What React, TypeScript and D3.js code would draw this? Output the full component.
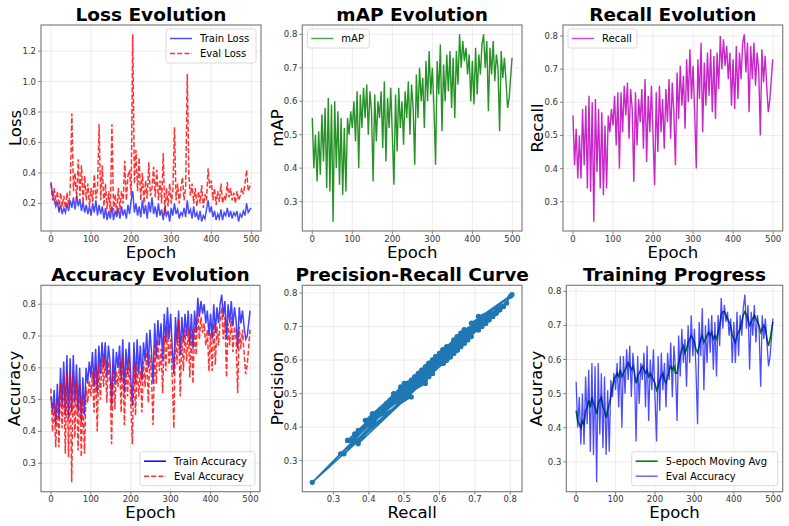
import * as d3 from "d3";

// epochs sampled every 4, last one is 499
const epochs = [...d3.range(0, 496, 4), 499];

const trainLoss = [
  0.34, 0.25, 0.22, 0.18, 0.21, 0.14, 0.19, 0.13, 0.17, 0.14,
  0.2, 0.15, 0.22, 0.17, 0.24, 0.16, 0.25, 0.18, 0.23, 0.15,
  0.21, 0.14, 0.19, 0.13, 0.18, 0.12, 0.2, 0.14, 0.22, 0.12,
  0.19, 0.13, 0.18, 0.1, 0.17, 0.09, 0.15, 0.1, 0.18, 0.09,
  0.15, 0.11, 0.17, 0.1, 0.18, 0.12, 0.16, 0.1, 0.19, 0.13,
  0.22, 0.28, 0.14, 0.2, 0.12, 0.18, 0.11, 0.22, 0.13, 0.19,
  0.1, 0.21, 0.14, 0.24, 0.13, 0.18, 0.11, 0.2, 0.12, 0.16,
  0.09, 0.18, 0.12, 0.15, 0.08, 0.17, 0.12, 0.2, 0.13, 0.16,
  0.1, 0.14, 0.12, 0.17, 0.11, 0.22, 0.13, 0.16, 0.1, 0.18,
  0.11, 0.14, 0.09, 0.15, 0.08, 0.12, 0.1, 0.16, 0.22, 0.14,
  0.18, 0.11, 0.15, 0.09, 0.13, 0.1, 0.16, 0.09, 0.14, 0.12,
  0.17, 0.11, 0.15, 0.1, 0.14, 0.12, 0.15, 0.08, 0.13, 0.11,
  0.15, 0.12, 0.2, 0.14, 0.17,
];

const evalLoss = [
  0.33, 0.22, 0.3, 0.2, 0.28, 0.16, 0.27, 0.18, 0.25, 0.17,
  0.27, 0.19, 0.3, 0.79, 0.28, 0.4, 0.22, 0.49, 0.25, 0.45,
  0.2, 0.38, 0.22, 0.33, 0.18, 0.3, 0.21, 0.39, 0.23, 0.3,
  0.72, 0.22, 0.45, 0.18, 0.33, 0.16, 0.28, 0.14, 0.72, 0.15,
  0.26, 0.13, 0.3, 0.16, 0.28, 0.2, 0.48, 0.22, 0.38, 0.42,
  0.25, 1.31, 0.33, 0.55, 0.28, 0.5, 0.22, 0.4, 0.2, 0.35,
  0.23, 0.47, 0.25, 0.3, 0.44, 0.24, 0.42, 0.22, 0.35, 0.2,
  0.53, 0.12, 0.3, 0.18, 0.33, 0.2, 0.28, 0.7, 0.22, 0.33,
  0.2, 0.3, 0.37, 0.22, 0.3, 1.05, 0.38, 0.25, 0.33, 0.2,
  0.3, 0.18, 0.28, 0.2, 0.32, 0.17, 0.26, 0.22, 0.43, 0.3,
  0.35, 0.22, 0.3, 0.19, 0.28, 0.21, 0.33, 0.2, 0.25, 0.22,
  0.34, 0.24, 0.3, 0.22, 0.27, 0.2, 0.28, 0.22, 0.25, 0.3,
  0.26, 0.33, 0.42, 0.28, 0.33,
];

const mapValues = [
  0.55, 0.4, 0.5, 0.36, 0.51, 0.38, 0.56, 0.42, 0.58, 0.34,
  0.61, 0.33, 0.59, 0.24, 0.6, 0.4, 0.57, 0.35, 0.55, 0.32,
  0.52, 0.33, 0.55, 0.5, 0.57, 0.52, 0.6, 0.48, 0.63, 0.4,
  0.62, 0.52, 0.64, 0.55, 0.65, 0.5, 0.63, 0.57, 0.36, 0.62,
  0.48, 0.6, 0.55, 0.63, 0.46, 0.66, 0.42, 0.61, 0.52, 0.64,
  0.5, 0.35, 0.62, 0.45, 0.64, 0.52, 0.6, 0.47, 0.63, 0.55,
  0.66, 0.5, 0.65, 0.58, 0.41, 0.68, 0.55, 0.7, 0.6, 0.67,
  0.52, 0.72, 0.6, 0.75, 0.62, 0.7, 0.58, 0.41, 0.72, 0.62,
  0.77, 0.51, 0.71, 0.6, 0.74, 0.63, 0.75, 0.58, 0.73, 0.55,
  0.75, 0.65, 0.8, 0.7, 0.78, 0.72, 0.76, 0.68, 0.74, 0.6,
  0.72, 0.59, 0.76, 0.62, 0.74, 0.68, 0.77, 0.8, 0.7, 0.78,
  0.57, 0.76, 0.68, 0.78, 0.66, 0.74, 0.7, 0.51, 0.75, 0.67,
  0.73, 0.66, 0.58, 0.61, 0.73,
];

const recallValues = [
  0.56, 0.41, 0.52, 0.37, 0.5, 0.37, 0.58, 0.41, 0.59, 0.34,
  0.62, 0.33, 0.6, 0.24, 0.61, 0.39, 0.58, 0.34, 0.57, 0.32,
  0.53, 0.34, 0.56, 0.51, 0.58, 0.53, 0.62, 0.47, 0.63, 0.4,
  0.63, 0.51, 0.65, 0.56, 0.66, 0.49, 0.64, 0.58, 0.36, 0.63,
  0.47, 0.61, 0.54, 0.64, 0.46, 0.67, 0.42, 0.62, 0.51, 0.65,
  0.5, 0.35, 0.63, 0.45, 0.65, 0.51, 0.61, 0.46, 0.64, 0.54,
  0.67, 0.49, 0.66, 0.57, 0.41, 0.69, 0.55, 0.71, 0.59, 0.68,
  0.52, 0.73, 0.6, 0.76, 0.61, 0.71, 0.57, 0.4, 0.73, 0.61,
  0.78, 0.51, 0.72, 0.59, 0.75, 0.62, 0.76, 0.57, 0.74, 0.55,
  0.75, 0.64, 0.8, 0.7, 0.79, 0.71, 0.77, 0.67, 0.75, 0.59,
  0.73, 0.58, 0.77, 0.61, 0.75, 0.67, 0.78, 0.805, 0.69, 0.78,
  0.57, 0.77, 0.67, 0.78, 0.65, 0.75, 0.7, 0.5, 0.76, 0.66,
  0.74, 0.65, 0.57, 0.61, 0.73,
];

const precisionValues = [
  0.53, 0.44, 0.49, 0.39, 0.53, 0.35, 0.56, 0.43, 0.61, 0.36,
  0.6, 0.32, 0.62, 0.235, 0.59, 0.42, 0.6, 0.36, 0.55, 0.32,
  0.55, 0.36, 0.54, 0.53, 0.56, 0.55, 0.6, 0.5, 0.61, 0.42,
  0.61, 0.53, 0.63, 0.58, 0.64, 0.52, 0.62, 0.6, 0.38, 0.61,
  0.49, 0.59, 0.56, 0.62, 0.48, 0.65, 0.44, 0.6, 0.53, 0.63,
  0.52, 0.36, 0.61, 0.47, 0.63, 0.53, 0.59, 0.48, 0.62, 0.56,
  0.65, 0.51, 0.64, 0.59, 0.42, 0.67, 0.57, 0.69, 0.61, 0.66,
  0.54, 0.71, 0.62, 0.74, 0.63, 0.69, 0.59, 0.41, 0.71, 0.63,
  0.76, 0.53, 0.7, 0.61, 0.73, 0.64, 0.74, 0.59, 0.72, 0.57,
  0.73, 0.66, 0.79, 0.71, 0.77, 0.73, 0.75, 0.69, 0.73, 0.61,
  0.71, 0.6, 0.75, 0.63, 0.73, 0.69, 0.76, 0.795, 0.71, 0.76,
  0.59, 0.75, 0.69, 0.76, 0.67, 0.73, 0.71, 0.52, 0.74, 0.68,
  0.72, 0.67, 0.59, 0.63, 0.71,
];

const trainAcc = [
  0.51, 0.46, 0.53, 0.42, 0.55, 0.44, 0.6, 0.48, 0.62, 0.45,
  0.64, 0.44, 0.63, 0.46, 0.64, 0.49, 0.61, 0.46, 0.6, 0.43,
  0.57, 0.45, 0.6, 0.55, 0.62, 0.57, 0.65, 0.54, 0.66, 0.52,
  0.67, 0.58, 0.68, 0.6, 0.68, 0.57, 0.67, 0.62, 0.48, 0.66,
  0.55, 0.65, 0.6, 0.67, 0.56, 0.69, 0.52, 0.66, 0.58, 0.68,
  0.57, 0.48, 0.68, 0.55, 0.69, 0.58, 0.67, 0.56, 0.68, 0.62,
  0.71, 0.6, 0.72, 0.65, 0.55, 0.74, 0.63, 0.75, 0.67, 0.74,
  0.62, 0.77, 0.68, 0.79, 0.69, 0.77, 0.66, 0.58, 0.76, 0.68,
  0.78, 0.64, 0.76, 0.68, 0.77, 0.7, 0.78, 0.67, 0.77, 0.66,
  0.78, 0.71, 0.82, 0.76, 0.81, 0.77, 0.8, 0.74, 0.78, 0.7,
  0.77, 0.69, 0.8, 0.71, 0.79, 0.74, 0.8, 0.83, 0.76, 0.81,
  0.69, 0.8, 0.74, 0.81, 0.73, 0.79, 0.75, 0.66, 0.79, 0.74,
  0.78, 0.73, 0.69, 0.7, 0.78,
];

const evalAcc = [
  0.535, 0.4, 0.49, 0.35, 0.5, 0.35, 0.55, 0.41, 0.57, 0.33,
  0.59, 0.32, 0.58, 0.24, 0.59, 0.38, 0.56, 0.34, 0.55, 0.32,
  0.51, 0.33, 0.54, 0.49, 0.56, 0.51, 0.59, 0.46, 0.61, 0.4,
  0.61, 0.5, 0.63, 0.54, 0.64, 0.49, 0.62, 0.56, 0.36, 0.61,
  0.47, 0.59, 0.54, 0.62, 0.46, 0.64, 0.42, 0.6, 0.51, 0.63,
  0.49, 0.36, 0.61, 0.45, 0.62, 0.51, 0.59, 0.46, 0.62, 0.54,
  0.65, 0.49, 0.64, 0.57, 0.42, 0.67, 0.55, 0.69, 0.59, 0.66,
  0.52, 0.7, 0.59, 0.73, 0.61, 0.69, 0.57, 0.41, 0.71, 0.61,
  0.75, 0.51, 0.7, 0.59, 0.72, 0.62, 0.73, 0.57, 0.71, 0.55,
  0.73, 0.64, 0.78, 0.69, 0.76, 0.71, 0.74, 0.67, 0.72, 0.59,
  0.71, 0.59, 0.74, 0.61, 0.73, 0.67, 0.75, 0.79, 0.69, 0.76,
  0.57, 0.74, 0.67, 0.76, 0.65, 0.73, 0.69, 0.52, 0.73, 0.66,
  0.72, 0.65, 0.58, 0.61, 0.72,
];

const movingAvg = [
  0.45, 0.42, 0.41, 0.4, 0.42, 0.41, 0.45, 0.46, 0.48, 0.46,
  0.49, 0.47, 0.46, 0.44, 0.47, 0.48, 0.49, 0.46, 0.45, 0.43,
  0.45, 0.47, 0.49, 0.52, 0.54, 0.55, 0.56, 0.55, 0.57, 0.55,
  0.56, 0.57, 0.58, 0.59, 0.58, 0.57, 0.58, 0.56, 0.53, 0.55,
  0.56, 0.57, 0.58, 0.57, 0.56, 0.57, 0.55, 0.56, 0.55, 0.54,
  0.53, 0.51, 0.52, 0.54, 0.55, 0.56, 0.54, 0.53, 0.55, 0.57,
  0.58, 0.57, 0.58, 0.56, 0.56, 0.59, 0.61, 0.63, 0.64, 0.62,
  0.63, 0.65, 0.66, 0.67, 0.66, 0.65, 0.63, 0.62, 0.64, 0.66,
  0.67, 0.65, 0.66, 0.67, 0.68, 0.67, 0.68, 0.66, 0.67, 0.66,
  0.68, 0.7, 0.73, 0.74, 0.74, 0.73, 0.72, 0.71, 0.7, 0.67,
  0.66, 0.65, 0.67, 0.68, 0.69, 0.71, 0.73, 0.74, 0.73, 0.72,
  0.7, 0.71, 0.72, 0.73, 0.72, 0.71, 0.7, 0.68, 0.69, 0.7,
  0.69, 0.66, 0.64, 0.66, 0.71,
];

const epochTicks = [0, 100, 200, 300, 400, 500];
const lossTicks = [0.2, 0.4, 0.6, 0.8, 1.0, 1.2];
const scoreTicks = [0.3, 0.4, 0.5, 0.6, 0.7, 0.8];

const FONT = "'DejaVu Sans', sans-serif";

// matplotlib-ish 5% margins
const pad = (vals: number[]): [number, number] => {
  const [a, b] = d3.extent(vals) as [number, number];
  const m = (b - a) * 0.05;
  return [a - m, b + m];
};

type Box = { l: number; r: number; t: number; b: number };
type LegendItem = { label: string; color: string; dash?: string; opacity?: number; width?: number };
type Legend = { loc: "ur" | "ul" | "lr"; w: number; items: LegendItem[] };

type PanelProps = {
  box: Box;
  title: string;
  titleY: number;
  xLabel: string;
  yLabel: string;
  yLabelX: number;
  xDomain: [number, number];
  yDomain: [number, number];
  xTicks: number[];
  yTicks: number[];
  xFmt: (v: number) => string;
  legend?: Legend;
  draw: (x: d3.ScaleLinear<number, number>, y: d3.ScaleLinear<number, number>) => React.ReactNode;
};

const fmt1 = d3.format(".1f");
const fmtInt = d3.format("d");

function Panel(p: PanelProps) {
  const { box } = p;
  const x = d3.scaleLinear().domain(p.xDomain).range([box.l, box.r]);
  const y = d3.scaleLinear().domain(p.yDomain).range([box.b, box.t]);
  const cx = (box.l + box.r) / 2;
  const cy = (box.t + box.b) / 2;
  const lg = p.legend;
  const lh = lg ? 4 + 15 * lg.items.length : 0;
  const lx = lg ? (lg.loc === "ul" ? box.l + 5 : box.r - 5 - lg.w) : 0;
  const ly = lg ? (lg.loc === "lr" ? box.b - 6 - lh : box.t + 4) : 0;

  return (
    <g>
      {/* grid */}
      {p.xTicks.map((t) => (
        <line key={"gx" + t} x1={x(t)} x2={x(t)} y1={box.t} y2={box.b} stroke="#b0b0b0" strokeOpacity={0.3} strokeWidth={0.8} />
      ))}
      {p.yTicks.map((t) => (
        <line key={"gy" + t} x1={box.l} x2={box.r} y1={y(t)} y2={y(t)} stroke="#b0b0b0" strokeOpacity={0.3} strokeWidth={0.8} />
      ))}

      {p.draw(x, y)}

      <rect x={box.l} y={box.t} width={box.r - box.l} height={box.b - box.t} fill="none" stroke="#808080" strokeWidth={1.2} />

      {/* ticks */}
      {p.xTicks.map((t) => (
        <g key={"tx" + t}>
          <line x1={x(t)} x2={x(t)} y1={box.b} y2={box.b + 3} stroke="#666" strokeWidth={0.8} />
          <text x={x(t)} y={box.b + 10.5} fontSize={8.5} fill="#333" textAnchor="middle" fontFamily={FONT}>
            {p.xFmt(t)}
          </text>
        </g>
      ))}
      {p.yTicks.map((t) => (
        <g key={"ty" + t}>
          <line x1={box.l - 3} x2={box.l} y1={y(t)} y2={y(t)} stroke="#666" strokeWidth={0.8} />
          <text x={box.l - 5} y={y(t) + 3} fontSize={8.5} fill="#333" textAnchor="end" fontFamily={FONT}>
            {fmt1(t)}
          </text>
        </g>
      ))}

      <text x={cx} y={p.titleY} fontSize={18.5} fontWeight="bold" textAnchor="middle" fontFamily={FONT} fill="#000">
        {p.title}
      </text>
      <text x={cx} y={box.b + 26.5} fontSize={16.5} textAnchor="middle" fontFamily={FONT} fill="#000">
        {p.xLabel}
      </text>
      <text
        transform={`translate(${p.yLabelX},${cy}) rotate(-90)`}
        fontSize={16.5}
        textAnchor="middle"
        fontFamily={FONT}
        fill="#000"
      >
        {p.yLabel}
      </text>

      {/* legend */}
      {lg && (
        <g>
          <rect x={lx} y={ly} width={lg.w} height={lh} rx={2.5} fill="#fff" fillOpacity={0.8} stroke="#d0d0d0" strokeWidth={0.8} />
          {lg.items.map((it, i) => {
            const yy = ly + 9.5 + 15 * i;
            return (
              <g key={it.label}>
                <line
                  x1={lx + 4}
                  x2={lx + 26}
                  y1={yy}
                  y2={yy}
                  stroke={it.color}
                  strokeWidth={it.width ?? 1.5}
                  strokeOpacity={it.opacity ?? 1}
                  strokeDasharray={it.dash}
                />
                <text x={lx + 34} y={yy + 3.6} fontSize={10} fontFamily={FONT} fill="#000">
                  {it.label}
                </text>
              </g>
            );
          })}
        </g>
      )}
    </g>
  );
}

function linePath(
  xs: number[],
  ys: number[],
  x: d3.ScaleLinear<number, number>,
  y: d3.ScaleLinear<number, number>
) {
  return (
    d3
      .line<number>()
      .x((_, i) => x(xs[i]))
      .y((d) => y(d))(ys) || ""
  );
}

export default function App() {
  const epochDomain = pad(epochs);
  const DASH = "5,2.2";

  return (
    <svg width={789} height={526} style={{ position: "absolute", left: 0, top: 0, background: "#fff" }}>
      <Panel
        box={{ l: 41, r: 261, t: 25, b: 231 }}
        title="Loss Evolution"
        titleY={21}
        xLabel="Epoch"
        yLabel="Loss"
        yLabelX={20.5}
        xDomain={epochDomain}
        yDomain={pad([...trainLoss, ...evalLoss])}
        xTicks={epochTicks}
        yTicks={lossTicks}
        xFmt={fmtInt}
        legend={{
          loc: "ur",
          w: 90,
          items: [
            { label: "Train Loss", color: "#0000ff", opacity: 0.7 },
            { label: "Eval Loss", color: "#ff0000", dash: DASH, opacity: 0.8 },
          ],
        }}
        draw={(x, y) => (
          <g fill="none">
            <path d={linePath(epochs, trainLoss, x, y)} stroke="#0000ff" strokeOpacity={0.7} strokeWidth={1.5} />
            <path d={linePath(epochs, evalLoss, x, y)} stroke="#ff0000" strokeOpacity={0.8} strokeWidth={1.5} strokeDasharray={DASH} />
          </g>
        )}
      />

      <Panel
        box={{ l: 302.3, r: 522, t: 25, b: 231 }}
        title="mAP Evolution"
        titleY={21}
        xLabel="Epoch"
        yLabel="mAP"
        yLabelX={282.5}
        xDomain={epochDomain}
        yDomain={pad(mapValues)}
        xTicks={epochTicks}
        yTicks={scoreTicks}
        xFmt={fmtInt}
        legend={{ loc: "ul", w: 62, items: [{ label: "mAP", color: "#008000", opacity: 0.7 }] }}
        draw={(x, y) => (
          <path d={linePath(epochs, mapValues, x, y)} fill="none" stroke="#008000" strokeOpacity={0.85} strokeWidth={1.4} />
        )}
      />

      <Panel
        box={{ l: 563, r: 782.7, t: 25, b: 231 }}
        title="Recall Evolution"
        titleY={21}
        xLabel="Epoch"
        yLabel="Recall"
        yLabelX={543}
        xDomain={epochDomain}
        yDomain={pad(recallValues)}
        xTicks={epochTicks}
        yTicks={scoreTicks}
        xFmt={fmtInt}
        legend={{ loc: "ul", w: 69, items: [{ label: "Recall", color: "#bf00bf", opacity: 0.7 }] }}
        draw={(x, y) => (
          <path d={linePath(epochs, recallValues, x, y)} fill="none" stroke="#bf00bf" strokeOpacity={0.85} strokeWidth={1.4} />
        )}
      />

      <Panel
        box={{ l: 41, r: 260, t: 285.3, b: 491.7 }}
        title="Accuracy Evolution"
        titleY={281}
        xLabel="Epoch"
        yLabel="Accuracy"
        yLabelX={19.5}
        xDomain={epochDomain}
        yDomain={pad([...trainAcc, ...evalAcc])}
        xTicks={epochTicks}
        yTicks={scoreTicks}
        xFmt={fmtInt}
        legend={{
          loc: "lr",
          w: 115,
          items: [
            { label: "Train Accuracy", color: "#0000ff" },
            { label: "Eval Accuracy", color: "#ff0000", dash: DASH, opacity: 0.8 },
          ],
        }}
        draw={(x, y) => (
          <g fill="none">
            <path d={linePath(epochs, trainAcc, x, y)} stroke="#0000ff" strokeOpacity={0.75} strokeWidth={1.5} />
            <path d={linePath(epochs, evalAcc, x, y)} stroke="#ff0000" strokeOpacity={0.8} strokeWidth={1.5} strokeDasharray={DASH} />
          </g>
        )}
      />

      <Panel
        box={{ l: 302.3, r: 522, t: 285.3, b: 491.7 }}
        title="Precision-Recall Curve"
        titleY={281}
        xLabel="Recall"
        yLabel="Precision"
        yLabelX={282.5}
        xDomain={pad(recallValues)}
        yDomain={pad(precisionValues)}
        xTicks={scoreTicks}
        yTicks={scoreTicks}
        xFmt={fmt1}
        draw={(x, y) => (
          <g>
            <path
              d={linePath(recallValues, precisionValues, x, y)}
              fill="none"
              stroke="#1f77b4"
              strokeWidth={1.6}
            />
            {recallValues.map((r, i) => (
              <circle key={i} cx={x(r)} cy={y(precisionValues[i])} r={2.6} fill="#1f77b4" />
            ))}
          </g>
        )}
      />

      <Panel
        box={{ l: 566.3, r: 782.7, t: 285.3, b: 491.7 }}
        title="Training Progress"
        titleY={281}
        xLabel="Epoch"
        yLabel="Accuracy"
        yLabelX={541.5}
        xDomain={epochDomain}
        yDomain={pad([...evalAcc, ...movingAvg])}
        xTicks={epochTicks}
        yTicks={scoreTicks}
        xFmt={fmtInt}
        legend={{
          loc: "lr",
          w: 146,
          items: [
            { label: "5-epoch Moving Avg", color: "#008000", width: 1.6 },
            { label: "Eval Accuracy", color: "#0000ff", opacity: 0.6 },
          ],
        }}
        draw={(x, y) => (
          <g fill="none">
            <path d={linePath(epochs, movingAvg, x, y)} stroke="#008000" strokeWidth={1.6} />
            <path d={linePath(epochs, evalAcc, x, y)} stroke="#0000ff" strokeOpacity={0.7} strokeWidth={1.3} />
          </g>
        )}
      />
    </svg>
  );
}
